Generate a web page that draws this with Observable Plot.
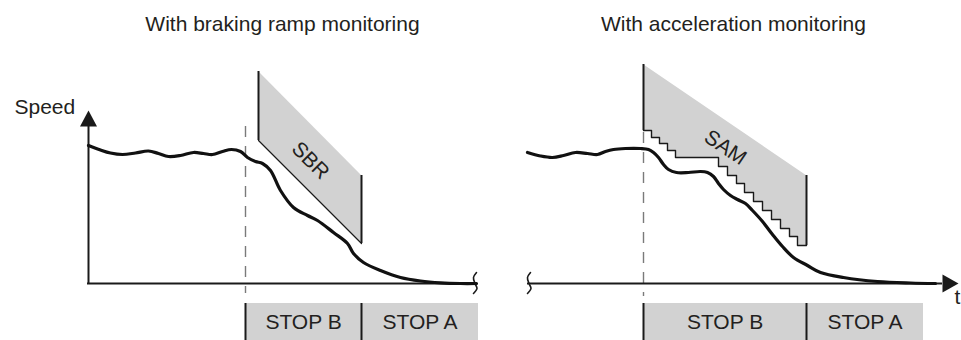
<!DOCTYPE html>
<html><head><meta charset="utf-8">
<script src="https://cdn.jsdelivr.net/npm/d3@7"></script>
<script src="https://cdn.jsdelivr.net/npm/@observablehq/plot@0.6"></script>
<style>body{margin:0;background:#fff;} svg{display:block}</style>
</head><body><div id="chart"></div>
<script>
// Diagram units: t = position along the time direction, v = speed above the time axis
const panelTitles = ["With braking ramp monitoring", "With acceleration monitoring"];
const titleTime = [282, 733];

// Speed profile, braking ramp panel
const brakeTime  = [88, 100, 110, 122, 135, 148, 158, 168, 180, 193, 203, 212, 222, 231, 240, 247, 255, 262, 270, 280, 293, 307, 317, 333, 347, 353, 363, 380, 400, 420, 440, 460, 476];
const brakeSpeed = [138, 133.5, 130.5, 129, 130.5, 132.5, 130, 127, 128, 131, 130, 129, 132, 134, 132, 126, 122, 120, 113, 93, 76, 68, 63, 51, 40, 30, 21, 13, 6, 2.5, 0.7, 0, 0];

// Speed profile, acceleration panel
const accelTime  = [527, 540, 552, 563, 575, 587, 597, 605, 613, 625, 640, 648, 653, 658, 663, 668, 676, 688, 700, 707, 713, 718, 723, 730, 737, 745, 752, 762, 772, 782, 793, 807, 820, 843, 877, 910, 935];
const accelSpeed = [131, 127.5, 126, 128, 131, 130, 129, 132, 134, 135, 135, 134, 131, 126, 119, 114, 111, 111, 112, 111, 107, 100, 94, 88, 84, 80, 73, 62, 49, 37, 26, 18, 11, 6, 2, 0.5, 0];

// SBR band (braking ramp limit)
const sbrTime  = [258, 361, 361, 258];
const sbrSpeed = [212, 108, 40, 143];

// SAM limit: upper diagonal and stepped lower edge
const samTopTime  = [643, 806];
const samTopSpeed = [219, 108];
const samStepTime  = [643, 651, 651, 659, 659, 667, 667, 675, 675, 718, 718, 727, 727, 736, 736, 744, 744, 753, 753, 762, 762, 771, 771, 780, 780, 789, 789, 797, 797, 806];
const samStepSpeed = [153, 153, 146, 146, 140, 140, 133, 133, 126, 126, 117, 117, 108, 108, 100, 100, 91, 91, 82, 82, 73, 73, 64, 64, 55, 55, 47, 47, 38, 38];

// Stop categories (time boundaries per panel)
const stopLabels = ["STOP B", "STOP A"];
const brakeStopEdges = [245, 361, 478];
const accelStopEdges = [643, 806, 923];
const stopBand = [-20, -57];

// Axis extents
const speedAxisTime = 88, speedAxisTop = 157, speedArrowTip = 173;
const brakeAxisStart = 87, brakeAxisEnd = 475;
const accelAxisStart = 527, accelAxisEnd = 942, accelArrowTip = 958;
const brakeTrigger = 245, accelTrigger = 643;

// Axis break squiggles
const brakeBreakTime = [476, 473, 474.5, 476.5, 473];
const accelBreakTime = [530, 527, 528.5, 530.5, 527];
const breakSpeed = [11, 6, 0, -5, -10];

const pts = (ts, vs) => ts.map((t, i) => ({t, v: vs[i]}));

const gray = "#d2d2d2", ink = "#1a1a1a", txt = "#231f20";

const stops = [];
[brakeStopEdges, accelStopEdges].forEach(e => stopLabels.forEach((label, i) => stops.push({label, t1: e[i], t2: e[i + 1]})));

const samPoly = pts(samTopTime, samTopSpeed).concat(pts(samStepTime, samStepSpeed).reverse());

const chart = Plot.plot({
  width: 961, height: 340,
  margin: 0,
  x: {domain: [0, 961], range: [0, 961], axis: null},
  y: {domain: [-57, 283], range: [340, 0], axis: null},
  style: {fontFamily: "'Liberation Sans', Arial, sans-serif", background: "#fff", overflow: "visible"},
  marks: [
    // stop bars
    Plot.rect(stops, {x1: "t1", x2: "t2", y1: stopBand[0], y2: stopBand[1], fill: gray}),
    // monitoring bands
    Plot.line(pts(sbrTime, sbrSpeed), {x: "t", y: "v", fill: gray, stroke: "none", curve: "linear-closed"}),
    Plot.line(samPoly, {x: "t", y: "v", fill: gray, stroke: "none", curve: "linear-closed"}),
    // trigger dashed lines
    Plot.ruleX([brakeTrigger], {y1: speedAxisTop, y2: -10, stroke: "#7a7a7a", strokeWidth: 1.4, strokeDasharray: "11,9"}),
    Plot.ruleX([accelTrigger], {y1: 151, y2: -13, stroke: "#7a7a7a", strokeWidth: 1.4, strokeDasharray: "11,9"}),
    // axes
    Plot.ruleX([speedAxisTime], {y1: 0, y2: speedAxisTop, stroke: ink, strokeWidth: 2}),
    Plot.ruleY([0], {x1: brakeAxisStart, x2: brakeAxisEnd, stroke: ink, strokeWidth: 2}),
    Plot.ruleY([0], {x1: accelAxisStart, x2: accelAxisEnd, stroke: ink, strokeWidth: 2}),
    Plot.line(pts([speedAxisTime - 8.5, speedAxisTime + 8.5, speedAxisTime], [speedAxisTop, speedAxisTop, speedArrowTip]), {x: "t", y: "v", fill: ink, stroke: "none", curve: "linear-closed"}),
    Plot.line(pts([accelAxisEnd, accelAxisEnd, accelArrowTip], [9, -9, 0]), {x: "t", y: "v", fill: ink, stroke: "none", curve: "linear-closed"}),
    Plot.line(pts(brakeBreakTime, breakSpeed), {x: "t", y: "v", stroke: ink, strokeWidth: 1.6, curve: "catmull-rom"}),
    Plot.line(pts(accelBreakTime, breakSpeed), {x: "t", y: "v", stroke: ink, strokeWidth: 1.6, curve: "catmull-rom"}),
    // SBR edges
    Plot.ruleX([sbrTime[0]], {y1: sbrSpeed[3], y2: sbrSpeed[0], stroke: ink, strokeWidth: 2}),
    Plot.ruleX([sbrTime[1]], {y1: sbrSpeed[2], y2: sbrSpeed[1], stroke: ink, strokeWidth: 2}),
    Plot.line(pts([sbrTime[3], sbrTime[2]], [sbrSpeed[3], sbrSpeed[2]]), {x: "t", y: "v", stroke: ink, strokeWidth: 1.2}),
    // SAM edges
    Plot.ruleX([samTopTime[0]], {y1: samStepSpeed[0], y2: samTopSpeed[0], stroke: ink, strokeWidth: 2}),
    Plot.ruleX([samTopTime[1]], {y1: samStepSpeed[samStepSpeed.length - 1], y2: samTopSpeed[1], stroke: ink, strokeWidth: 2}),
    Plot.line(pts(samStepTime, samStepSpeed), {x: "t", y: "v", stroke: ink, strokeWidth: 1.4}),
    // speed curves
    Plot.line(pts(brakeTime, brakeSpeed), {x: "t", y: "v", stroke: "#111", strokeWidth: 3.2, curve: "catmull-rom", strokeLinecap: "round"}),
    Plot.line(pts(accelTime, accelSpeed), {x: "t", y: "v", stroke: "#111", strokeWidth: 3.2, curve: "catmull-rom", strokeLinecap: "round"}),
    // stop separators
    Plot.ruleX(brakeStopEdges.slice(0, 2).concat(accelStopEdges.slice(0, 2)), {y1: stopBand[0], y2: stopBand[1], stroke: ink, strokeWidth: 2}),
    // texts
    Plot.text(stops, {x: d => (d.t1 + d.t2) / 2, y: -45, text: "label", fontSize: 21, fill: txt, lineAnchor: "bottom"}),
    Plot.text(panelTitles, {x: (d, i) => titleTime[i], y: 253, text: d => d, fontSize: 21, fill: txt, lineAnchor: "bottom"}),
    Plot.text(["Speed"], {x: 14, y: 170, text: d => d, fontSize: 21, fill: txt, textAnchor: "start", lineAnchor: "bottom"}),
    Plot.text(["t"], {x: 954, y: -20, text: d => d, fontSize: 21, fill: txt, textAnchor: "start", lineAnchor: "bottom"}),
    Plot.text(["SBR"], {x: 310, y: 123, text: d => d, fontSize: 21, fill: txt, rotate: 45}),
    Plot.text(["SAM"], {x: 725, y: 136, text: d => d, fontSize: 21, fill: txt, rotate: 34})
  ]
});
document.getElementById("chart").appendChild(chart);
</script>
</body></html>
